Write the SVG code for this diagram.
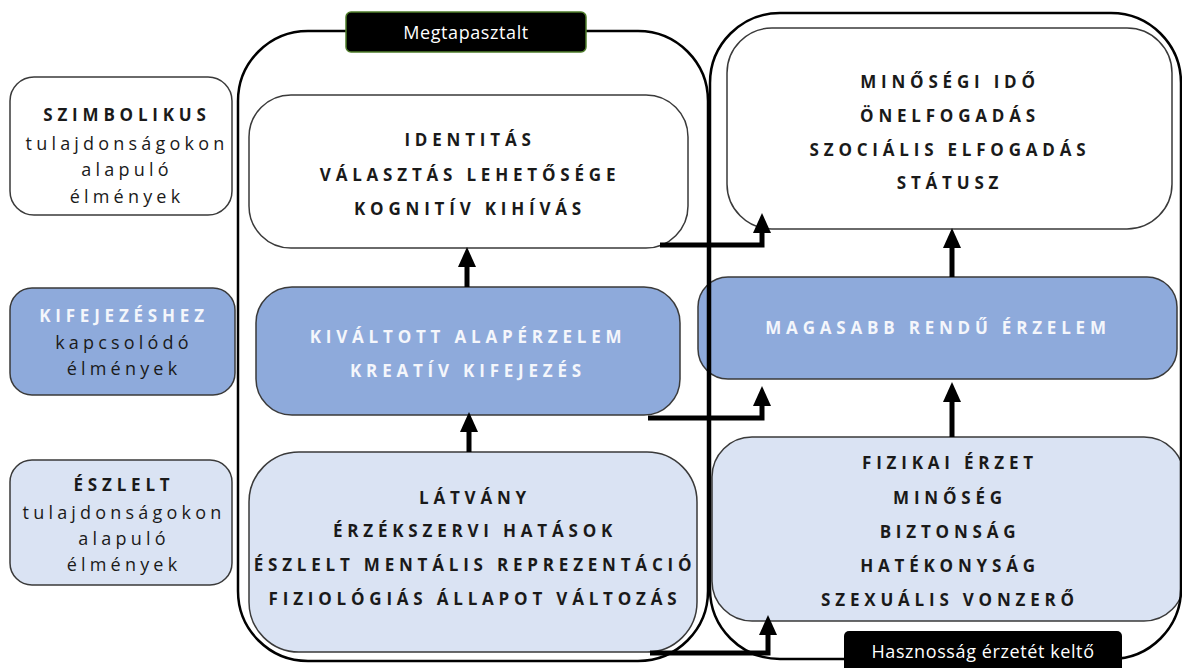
<svg xmlns="http://www.w3.org/2000/svg" width="1182" height="668" viewBox="0 0 1182 668">
<style>
.nb{stroke:#3a3a3a;stroke-width:1.5}
.w{fill:#ffffff}
.m{fill:#8eaadb}
.l{fill:#dae3f3}
.cont{fill:none;stroke:#000;stroke-width:2.5}
.t{font-family:"Open Sans","DejaVu Sans",sans-serif;font-size:17px;font-weight:700;letter-spacing:4.8px;text-anchor:middle;fill:#1a1a1a}
.tw{fill:#f4f6fb}
.r{font-family:"Open Sans","DejaVu Sans",sans-serif;font-size:18px;font-weight:400;letter-spacing:4.2px;text-anchor:middle;fill:#1a1a1a}
.lab{font-family:"Open Sans","DejaVu Sans",sans-serif;font-size:18px;font-weight:400;letter-spacing:0.6px;text-anchor:middle;fill:#fff}
.arr{fill:none;stroke:#000;stroke-width:5;marker-end:url(#ah)}
</style>
<defs>
<marker id="ah" markerUnits="userSpaceOnUse" markerWidth="20" markerHeight="20" viewBox="0 0 20 20" refX="0" refY="10" orient="auto">
<path d="M0,1 L20,10 L0,19 z" fill="#000"/>
</marker>
</defs>
<rect width="1182" height="668" fill="#fff"/>

<g id="left-szimbolikus">
<rect class="nb w" x="10" y="77" width="222" height="138" rx="24"/>
<text class="t" x="127" y="121">SZIMBOLIKUS</text>
<text class="r" x="127" y="150">tulajdonságokon</text>
<text class="r" x="127" y="176">alapuló</text>
<text class="r" x="127" y="203">élmények</text>
</g>
<g id="left-kifejezes">
<rect class="nb m" x="10" y="288" width="225" height="107" rx="22"/>
<text class="t tw" x="124" y="322">KIFEJEZÉSHEZ</text>
<text class="r tw" x="124" y="349">kapcsolódó</text>
<text class="r tw" x="124" y="375">élmények</text>
</g>
<g id="left-eszlelt">
<rect class="nb l" x="10" y="460" width="222" height="125" rx="22"/>
<text class="t" x="124" y="491">ÉSZLELT</text>
<text class="r" x="124" y="519">tulajdonságokon</text>
<text class="r" x="124" y="545">alapuló</text>
<text class="r" x="124" y="571">élmények</text>
</g>

<g id="identitas">
<rect class="nb w" x="249" y="95" width="439" height="153" rx="42"/>
<text class="t" x="470" y="146">IDENTITÁS</text>
<text class="t" x="470" y="181">VÁLASZTÁS LEHETŐSÉGE</text>
<text class="t" x="470" y="215">KOGNITÍV KIHÍVÁS</text>
</g>
<g id="kivaltott">
<rect class="nb m" x="256" y="287" width="424" height="128" rx="36"/>
<text class="t tw" x="468" y="343">KIVÁLTOTT ALAPÉRZELEM</text>
<text class="t tw" x="468" y="377">KREATÍV KIFEJEZÉS</text>
</g>
<g id="latvany">
<rect class="nb l" x="249" y="452" width="448" height="200" rx="50"/>
<text class="t" x="475" y="504">LÁTVÁNY</text>
<text class="t" x="475" y="537">ÉRZÉKSZERVI HATÁSOK</text>
<text class="t" x="475" y="571">ÉSZLELT MENTÁLIS REPREZENTÁCIÓ</text>
<text class="t" x="475" y="605">FIZIOLÓGIÁS ÁLLAPOT VÁLTOZÁS</text>
</g>
<g id="minosegi">
<rect class="nb w" x="727" y="28" width="445" height="201" rx="45"/>
<text class="t" x="950" y="88">MINŐSÉGI IDŐ</text>
<text class="t" x="950" y="122">ÖNELFOGADÁS</text>
<text class="t" x="950" y="156">SZOCIÁLIS ELFOGADÁS</text>
<text class="t" x="950" y="189">STÁTUSZ</text>
</g>
<g id="magasabb">
<rect class="nb m" x="698" y="277" width="479" height="102" rx="30"/>
<text class="t tw" x="938" y="334">MAGASABB RENDŰ ÉRZELEM</text>
</g>
<g id="fizikai">
<rect class="nb l" x="712" y="437" width="472" height="184" rx="40"/>
<text class="t" x="950" y="469">FIZIKAI ÉRZET</text>
<text class="t" x="950" y="504">MINŐSÉG</text>
<text class="t" x="950" y="538">BIZTONSÁG</text>
<text class="t" x="950" y="572">HATÉKONYSÁG</text>
<text class="t" x="950" y="606">SZEXUÁLIS VONZERŐ</text>
</g>

<g id="container-megtapasztalt">
<rect class="cont" x="238" y="31" width="470" height="630" rx="70"/>
<rect x="346" y="12" width="240" height="40" rx="5" fill="#000" stroke="#4f7d2b" stroke-width="1.5"/>
<text class="lab" x="466" y="39">Megtapasztalt</text>
</g>
<g id="container-hasznossag">
<rect class="cont" x="710" y="13" width="471" height="646" rx="70"/>
<rect x="844" y="631" width="278" height="45" rx="5" fill="#000"/>
<text class="lab" x="983" y="658">Hasznosság érzetét keltő</text>
</g>

<g id="connectors">
<path class="arr" d="M469,452 V432"/>
<path class="arr" d="M467,287 V267"/>
<path class="arr" d="M660,245 H762 V233"/>
<path class="arr" d="M648,418 H762 V406"/>
<path class="arr" d="M650,653 H768 V635"/>
<path class="arr" d="M952,277 V248"/>
<path class="arr" d="M952,437 V402"/>
</g>
</svg>
